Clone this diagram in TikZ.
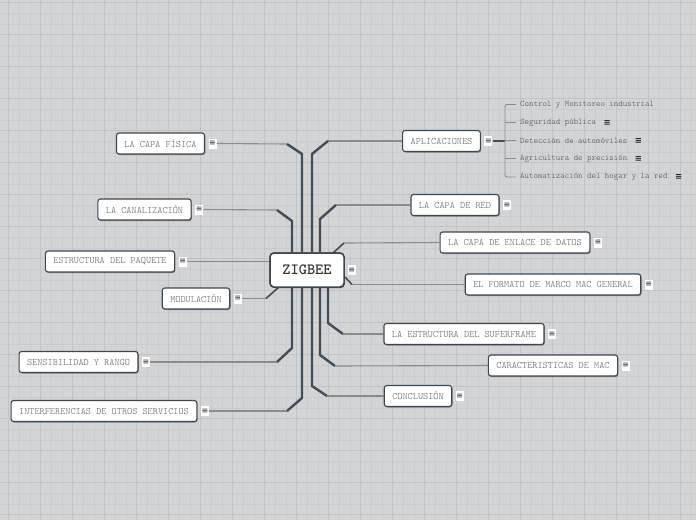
\documentclass[tikz,border=0pt]{standalone}
\usepackage{fontspec}
\setmonofont{lmmonolt10-regular.otf}[BoldFont=lmmonolt10-bold.otf]
\newfontfamily\symfont{DejaVu Sans}
\usetikzlibrary{calc,shadows}
\definecolor{bg}{HTML}{D3D4D6}
\definecolor{gridminor}{HTML}{CACBCD}
\definecolor{gridmajor}{HTML}{C2C3C5}
\definecolor{trunkc}{HTML}{434D55}
\definecolor{branchc}{HTML}{888C90}
\definecolor{boxborder}{HTML}{3E474E}
\definecolor{txt}{HTML}{5E5E5E}
\definecolor{subtxt}{HTML}{4A4A4A}
\begin{document}
\begin{tikzpicture}[x=1pt,y=-1pt,
  topic/.style={draw=boxborder, line width=1.1pt, fill=white, rounded corners=2.5pt,
    font=\ttfamily\fontsize{9.8}{11}\selectfont, text=txt, minimum height=21pt,
    inner xsep=8pt, inner ysep=0pt,
    drop shadow={shadow xshift=0.8pt, shadow yshift=-1pt, opacity=0.35, fill=black}},
  central/.style={draw=boxborder, line width=1.5pt, fill=white, rounded corners=4pt,
    font=\ttfamily\bfseries\fontsize{15.6}{17}\selectfont, text=black!80,
    minimum width=74pt, minimum height=34pt, inner sep=0pt,
    drop shadow={shadow xshift=0.8pt, shadow yshift=-1pt, opacity=0.35, fill=black}},
  icon/.style={fill=white, inner sep=0pt, minimum width=8pt, minimum height=10pt,
    font=\symfont\fontsize{8}{8}\selectfont, text=black!85},
  subicon/.style={inner sep=0pt, font=\symfont\bfseries\fontsize{8.5}{8}\selectfont, text=black!85},
  subtopic/.style={anchor=west, inner sep=0pt, font=\ttfamily\fontsize{8.5}{10}\selectfont, text=subtxt},
  trunk/.style={draw=trunkc, line width=2.4pt, line join=round},
  branch/.style={draw=branchc, line width=1.1pt},
  bracket/.style={draw=branchc, line width=0.9pt, rounded corners=2pt}
]
\useasboundingbox (0,0) rectangle (696,520);
% background and grid
\begin{scope}
\clip (0,0) rectangle (696,520);
\fill[bg] (0,0) rectangle (696,520);
\foreach \i in {0,...,65} {
  \draw[gridminor, line width=0.8pt] ({8.67+\i*10.667},0) -- ++(0,520);
}
\foreach \i in {0,...,49} {
  \draw[gridminor, line width=0.8pt] (0,{2.7+\i*10.667}) -- ++(696,0);
}
\foreach \i in {0,...,21} {
  \draw[gridmajor, line width=1pt] ({8.67+\i*32},0) -- ++(0,520);
}
\foreach \i in {0,...,16} {
  \draw[gridmajor, line width=1pt] (0,{2.7+\i*32}) -- ++(696,0);
}
\end{scope}

% central
\node[central] (zig) at (307,270) {ZIGBEE};
\node[icon] (zigI) at ($(zig.east)+(7,0)$) {≡};

% left topics
\node[topic] (fis) at (160.5,143.5) {LA CAPA FÍSICA};
\node[topic] (can) at (144.5,209.5) {LA CANALIZACIÓN};
\node[topic] (paq) at (110,261.5) {ESTRUCTURA DEL PAQUETE};
\node[topic] (mod) at (196,298.5) {MODULACIÓN};
\node[topic] (sen) at (78.5,362) {SENSIBILIDAD Y RANGO};
\node[topic] (int) at (104,411) {INTERFERENCIAS DE OTROS SERVICIOS};
% right topics
\node[topic] (apl) at (441.5,141) {APLICACIONES};
\node[topic] (red) at (455,205) {LA CAPA DE RED};
\node[topic] (enl) at (515,242.5) {LA CAPA DE ENLACE DE DATOS};
\node[topic] (fmt) at (553,284.5) {EL FORMATO DE MARCO MAC GENERAL};
\node[topic] (sup) at (464,334) {LA ESTRUCTURA DEL SUPERFRAME};
\node[topic] (car) at (553,365.5) {CARACTERISTICAS DE MAC};
\node[topic] (con) at (418,396) {CONCLUSIÓN};

% icons
\foreach \n in {fis,can,paq,mod,sen,int,apl,red,enl,fmt,sup,car,con} {
  \node[icon] (\n I) at ($(\n.east)+(7.5,0)$) {≡};
}

% subtopics of APLICACIONES
\node[subtopic] (s1) at (520,104.5) {Control y Monitoreo industrial};
\node[subtopic] (s2) at (520,122.5) {Seguridad pública};
\node[subtopic] (s3) at (520,140.5) {Detección de automóviles};
\node[subtopic] (s4) at (520,158.5) {Agricultura de precisión};
\node[subtopic] (s5) at (520,177) {Automatización del hogar y la red};
\node[subicon] (s2I) at ($(s2.east)+(11,0)$) {≡};
\node[subicon] (s3I) at ($(s3.east)+(11,0)$) {≡};
\node[subicon] (s4I) at ($(s4.east)+(11,0)$) {≡};
\node[subicon] (s5I) at ($(s5.east)+(11,0)$) {≡};

\coordinate (brk) at (505,141);
\draw[draw=trunkc, line width=1.4pt] (aplI.east) -- (brk);
\draw[bracket] ($(s1.west)+(-4,0)$) -- (505,104.5) -- (505,177) -- ($(s5.west)+(-4,0)$);
\draw[bracket] (brk |- s2.west) -- ($(s2.west)+(-4,0)$);
\draw[bracket] (brk |- s3.west) -- ($(s3.west)+(-4,0)$);
\draw[bracket] (brk |- s4.west) -- ($(s4.west)+(-4,0)$);

% bend coordinates
\coordinate (fisA) at (287,144);  \coordinate (fisB) at (302,154);
\coordinate (canA) at (277,210);  \coordinate (canB) at (292,221);
\coordinate (aplA) at (328,141);  \coordinate (aplB) at (312,154);
\coordinate (redA) at (336,205);  \coordinate (redB) at (320,219);
\coordinate (enlA) at (344,243);  \coordinate (enlB) at (333,253);
\coordinate (senA) at (277,362);  \coordinate (senB) at (292,348);
\coordinate (intA) at (287,411);  \coordinate (intB) at (302,398);
\coordinate (conA) at (327,396);  \coordinate (conB) at (312,386);
\coordinate (carA) at (335,366);  \coordinate (carB) at (320,355);
\coordinate (supA) at (343,334);  \coordinate (supB) at (328,323);
\coordinate (modA) at (266,298.5); \coordinate (modB) at (279,287);
\coordinate (fmtA) at (352,284.5); \coordinate (fmtB) at (345,277);

% connectors (top)
\draw[branch] (fisI.east) -- (fisA);
\draw[trunk] (fisA) -- (fisB) -- (zig.north -| fisB);
\draw[branch] (canI.east) -- (canA);
\draw[trunk] (canA) -- (canB) -- (zig.north -| canB);
\draw[branch] (apl.west) -- (aplA);
\draw[trunk] (aplA) -- (aplB) -- (zig.north -| aplB);
\draw[branch] (red.west) -- (redA);
\draw[trunk] (redA) -- (redB) -- (zig.north -| redB);
\draw[branch] (enl.west) -- (enlA);
\draw[draw=trunkc, line width=1.6pt] (enlA) -- (enlB);
% connectors (side)
\draw[branch] (paqI.east) -- (zig.west |- paqI.east);
\draw[branch] (modI.east) -- (modA);
\draw[draw=trunkc, line width=1.6pt] (modA) -- (modB);
\draw[draw=trunkc, line width=1.6pt] (fmtB) -- (fmtA);
\draw[branch] (fmtA) -- (fmt.west);
% connectors (bottom)
\draw[trunk] (zig.south -| senB) -- (senB) -- (senA);
\draw[branch] (senA) -- (senI.east);
\draw[trunk] (zig.south -| intB) -- (intB) -- (intA);
\draw[branch] (intA) -- (intI.east);
\draw[trunk] (zig.south -| conB) -- (conB) -- (conA);
\draw[branch] (conA) -- (con.west);
\draw[trunk] (zig.south -| carB) -- (carB) -- (carA);
\draw[branch] (carA) -- (car.west);
\draw[trunk] (zig.south -| supB) -- (supB) -- (supA);
\draw[branch] (supA) -- (sup.west);

% redraw central on top of trunks
\node[central] at (zig) {ZIGBEE};
\end{tikzpicture}
\end{document}
